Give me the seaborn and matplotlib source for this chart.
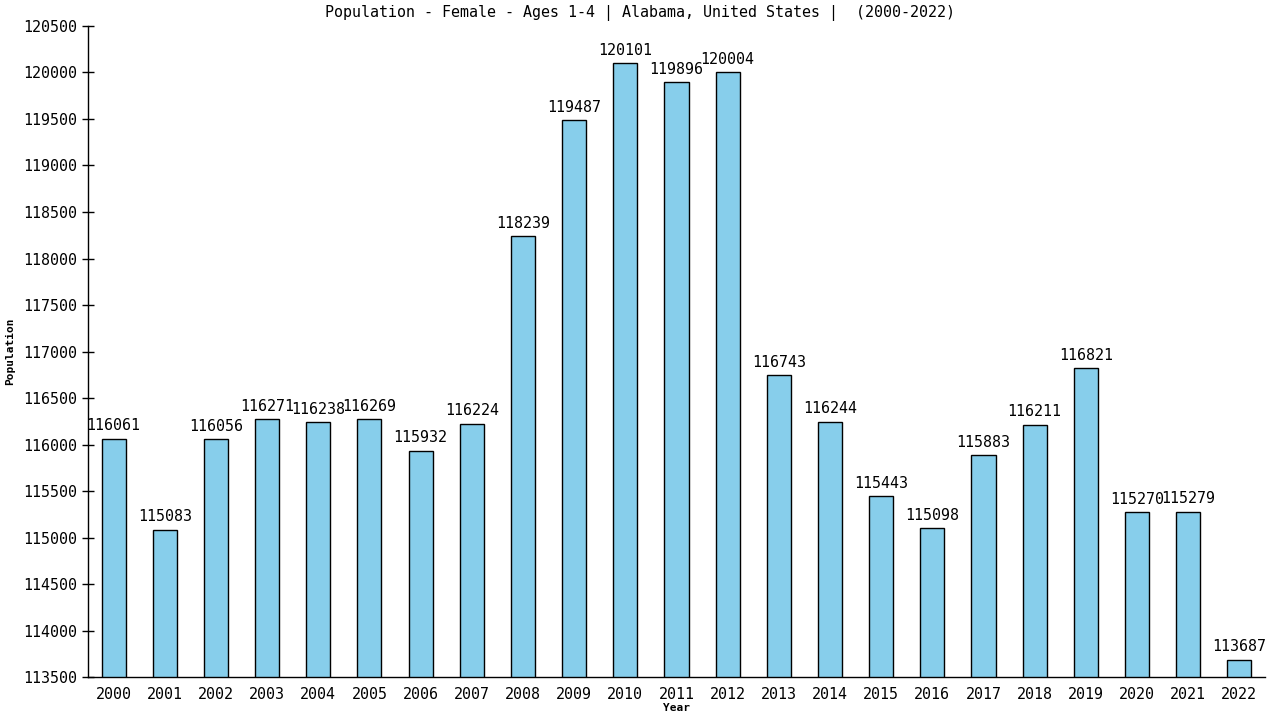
import numpy as np
import pandas as pd
import matplotlib
matplotlib.use("Agg")
import matplotlib.pyplot as plt
import seaborn as sns

# 데이터
years = [str(y) for y in range(2000, 2023)]
population = [116061, 115083, 116056, 116271, 116238, 116269, 115932, 116224,
              118239, 119487, 120101, 119896, 120004, 116743, 116244, 115443,
              115098, 115883, 116211, 116821, 115270, 115279, 113687]

df = pd.DataFrame({"Year": years, "Population": population})

sns.set_theme(style="white")
plt.rcParams['font.family'] = ['DejaVu Sans Mono', 'DejaVu Sans']
plt.rcParams['text.color'] = 'black'

fig = plt.figure(figsize=(12.8, 7.2), dpi=100)
ax = fig.add_axes([0.06875, 0.0597, 0.9195, 0.9042])

sns.barplot(data=df, x="Year", y="Population", color="#87ceeb", saturation=1,
            width=0.47, edgecolor="black", linewidth=1, ax=ax)

for i, v in enumerate(population):
    ax.text(i, v + 60, str(v), ha="center", va="bottom", fontsize=10.8, color="black")

ax.set_ylim(113500, 120500)
ax.set_xlim(-0.5, 22.5)
ax.set_yticks(np.arange(113500, 120501, 500))
ax.tick_params(axis="y", left=True, direction="inout", length=8, width=1,
               labelsize=10.8, colors="black")
ax.tick_params(axis="x", bottom=False, labelsize=10.8, colors="black", pad=1)
for s in ["top", "right"]:
    ax.spines[s].set_visible(False)
for s in ["left", "bottom"]:
    ax.spines[s].set_color("black")
    ax.spines[s].set_linewidth(1)

fig.text(0.5, 0.982, "Population - Female - Ages 1-4 | Alabama, United States |  (2000-2022)",
         ha="center", va="center", fontsize=10.8, color="black")
ax.set_xlabel("Year", fontsize=8, fontweight="bold", labelpad=1, color="black")
ax.set_ylabel("Population", fontsize=8, fontweight="bold", labelpad=6, color="black")

fig.savefig("out.png", dpi=100)
